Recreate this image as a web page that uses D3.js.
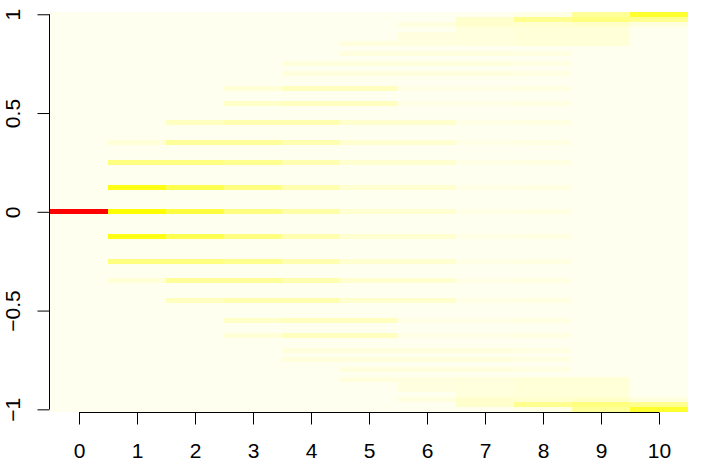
<!DOCTYPE html>
<html>
<head>
<meta charset="utf-8">
<script src="https://cdn.jsdelivr.net/npm/d3@7"></script>
<style>
  body { margin: 0; background: #fff; }
</style>
</head>
<body>
<svg id="chart" width="701" height="462"></svg>
<script>
// steps along x, each column holds [y, value] cells (value 0 everywhere else)
var steps = [0, 1, 2, 3, 4, 5, 6, 7, 8, 9, 10];
var cellHalf = 0.0125;

var col0 = [[0, 1]];
var col1 = [[-0.35, 0.025], [-0.25, 0.117], [-0.125, 0.23], [0, 0.25], [0.125, 0.23], [0.25, 0.117], [0.35, 0.025]];
var col2 = [[-0.45, 0.05], [-0.35, 0.09], [-0.25, 0.117], [-0.125, 0.167], [0, 0.183],
            [0.125, 0.167], [0.25, 0.117], [0.35, 0.09], [0.45, 0.05]];
var col3 = [[-0.625, 0.025], [-0.55, 0.042], [-0.45, 0.067], [-0.35, 0.09], [-0.25, 0.1], [-0.125, 0.117], [0, 0.117],
            [0.125, 0.117], [0.25, 0.1], [0.35, 0.09], [0.45, 0.067], [0.55, 0.042], [0.625, 0.025]];
var col4 = [[-0.75, 0.02], [-0.7, 0.02], [-0.625, 0.05], [-0.55, 0.05], [-0.45, 0.067], [-0.35, 0.067], [-0.25, 0.067],
            [-0.125, 0.067], [0, 0.075], [0.125, 0.067], [0.25, 0.067], [0.35, 0.067], [0.45, 0.067],
            [0.55, 0.05], [0.625, 0.05], [0.7, 0.02], [0.75, 0.02]];
var col5 = [[-0.85, 0.02], [-0.8, 0.02], [-0.75, 0.02], [-0.7, 0.02], [-0.625, 0.05], [-0.55, 0.05], [-0.45, 0.035],
            [-0.35, 0.033], [-0.25, 0.033], [-0.125, 0.033], [0, 0.033], [0.125, 0.033], [0.25, 0.033], [0.35, 0.033],
            [0.45, 0.035], [0.55, 0.05], [0.625, 0.05], [0.7, 0.02], [0.75, 0.02], [0.8, 0.02], [0.85, 0.02]];
var col6 = [[-0.95, 0.017], [-0.9, 0.017], [-0.875, 0.017], [-0.85, 0.017], [-0.8, 0.02], [-0.75, 0.02], [-0.7, 0.02],
            [-0.625, 0.01], [-0.55, 0.01], [-0.45, 0.035], [-0.35, 0.033], [-0.25, 0.033], [-0.125, 0.033], [0, 0.033],
            [0.125, 0.033], [0.25, 0.033], [0.35, 0.033], [0.45, 0.035], [0.55, 0.01], [0.625, 0.01],
            [0.7, 0.02], [0.75, 0.02], [0.8, 0.02], [0.85, 0.017], [0.875, 0.017], [0.9, 0.017], [0.95, 0.017]];
var col7 = [[-0.975, 0.035], [-0.95, 0.035], [-0.925, 0.02], [-0.9, 0.02], [-0.875, 0.02], [-0.85, 0.02], [-0.8, 0.02],
            [-0.75, 0.02], [-0.7, 0.02], [-0.625, 0.01], [-0.55, 0.01], [-0.45, 0.01], [-0.35, 0.01], [-0.25, 0.01],
            [-0.125, 0.01], [0, 0.01], [0.125, 0.01], [0.25, 0.01], [0.35, 0.01], [0.45, 0.01], [0.55, 0.01],
            [0.625, 0.01], [0.7, 0.02], [0.75, 0.02], [0.8, 0.02], [0.85, 0.02], [0.875, 0.02], [0.9, 0.02],
            [0.925, 0.02], [0.95, 0.035], [0.975, 0.035]];
var col8 = [[-1, 0.01], [-0.975, 0.1], [-0.95, 0.033], [-0.925, 0.025], [-0.9, 0.025], [-0.875, 0.025], [-0.85, 0.025],
            [-0.8, 0.015], [-0.75, 0.015], [-0.7, 0.015], [-0.625, 0.015], [-0.55, 0.015], [-0.45, 0.015],
            [-0.35, 0.015], [-0.25, 0.015], [-0.125, 0.015], [0, 0.015], [0.125, 0.015], [0.25, 0.015],
            [0.35, 0.015], [0.45, 0.015], [0.55, 0.015], [0.625, 0.015], [0.7, 0.015], [0.75, 0.015], [0.8, 0.015],
            [0.85, 0.025], [0.875, 0.025], [0.9, 0.025], [0.925, 0.025], [0.95, 0.033], [0.975, 0.1], [1, 0.01]];
var col9 = [[-1, 0.09], [-0.975, 0.117], [-0.95, 0.04], [-0.925, 0.025], [-0.9, 0.025], [-0.875, 0.025], [-0.85, 0.025],
            [0.85, 0.025], [0.875, 0.025], [0.9, 0.025], [0.925, 0.025], [0.95, 0.04], [0.975, 0.117], [1, 0.09]];
var col10 = [[-1, 0.2], [-0.975, 0.1], [-0.95, 0.017], [0.95, 0.017], [0.975, 0.1], [1, 0.2]];

var columns = [col0, col1, col2, col3, col4, col5, col6, col7, col8, col9, col10];
var xTicks = [0, 1, 2, 3, 4, 5, 6, 7, 8, 9, 10];
var yTicks = [-1, -0.5, 0, 0.5, 1];

var svg = d3.select('#chart');

var xScale = d3.scaleLinear()
    .domain([-0.5, 10.5])
    .range([50, 688]);

var yScale = d3.scaleLinear()
    .domain([-1 - cellHalf, 1 + cellHalf])
    .range([411.8, 11.8]);

var heat = d3.scaleLinear()
    .domain([0, 0.25, 1])
    .range(["#fffff0", "#ffff00", "#ff0000"]);

// zero background
svg.append('rect')
    .attr('x', xScale(-0.5))
    .attr('y', yScale(1 + cellHalf))
    .attr('width', xScale(10.5) - xScale(-0.5))
    .attr('height', yScale(-1 - cellHalf) - yScale(1 + cellHalf))
    .attr('fill', heat(0))
    .attr('shape-rendering', 'crispEdges');

var cells = [];
columns.forEach(function (col, i) {
    col.forEach(function (c) {
        cells.push({ step: steps[i], y: c[0], value: c[1] });
    });
});

svg.append('g').selectAll('rect')
    .data(cells)
    .enter().append('rect')
    .attr('x', function (d) { return xScale(d.step - 0.5); })
    .attr('width', function (d) { return xScale(d.step + 0.5) - xScale(d.step - 0.5); })
    .attr('y', function (d) { return yScale(d.y + cellHalf); })
    .attr('height', function (d) { return yScale(d.y - cellHalf) - yScale(d.y + cellHalf); })
    .attr('fill', function (d) { return heat(d.value); })
    .attr('shape-rendering', 'crispEdges');

// axes, R style
var xAxis = d3.axisBottom(xScale)
    .tickValues(xTicks)
    .tickSize(12)
    .tickSizeOuter(0);

var gx = svg.append('g')
    .attr('transform', 'translate(0,412.5)')
    .call(xAxis);
gx.select('.domain').remove();
gx.append('line')
    .attr('x1', xScale(xTicks[0])).attr('x2', xScale(xTicks[xTicks.length - 1]))
    .attr('stroke', '#000');
gx.selectAll('.tick line').attr('stroke', '#000');
gx.selectAll('.tick text')
    .attr('dy', null).attr('y', 45)
    .attr('fill', '#000')
    .style('font-family', '"Liberation Sans", Arial, sans-serif')
    .style('font-size', '21px');

var yAxis = d3.axisLeft(yScale)
    .tickValues(yTicks)
    .tickSize(12)
    .tickFormat(function (d) { return d3.format('')(d); })
    .tickSizeOuter(0);

var gy = svg.append('g')
    .attr('transform', 'translate(49.5,0)')
    .call(yAxis);
gy.select('.domain').remove();
gy.append('line')
    .attr('y1', yScale(yTicks[0])).attr('y2', yScale(yTicks[yTicks.length - 1]))
    .attr('stroke', '#000');
gy.selectAll('.tick line').attr('stroke', '#000');
gy.selectAll('.tick text')
    .attr('x', null).attr('dy', null)
    .attr('fill', '#000')
    .attr('text-anchor', 'middle')
    .attr('transform', 'translate(-30,0) rotate(-90)')
    .style('font-family', '"Liberation Sans", Arial, sans-serif')
    .style('font-size', '21px');
</script>
</body>
</html>
